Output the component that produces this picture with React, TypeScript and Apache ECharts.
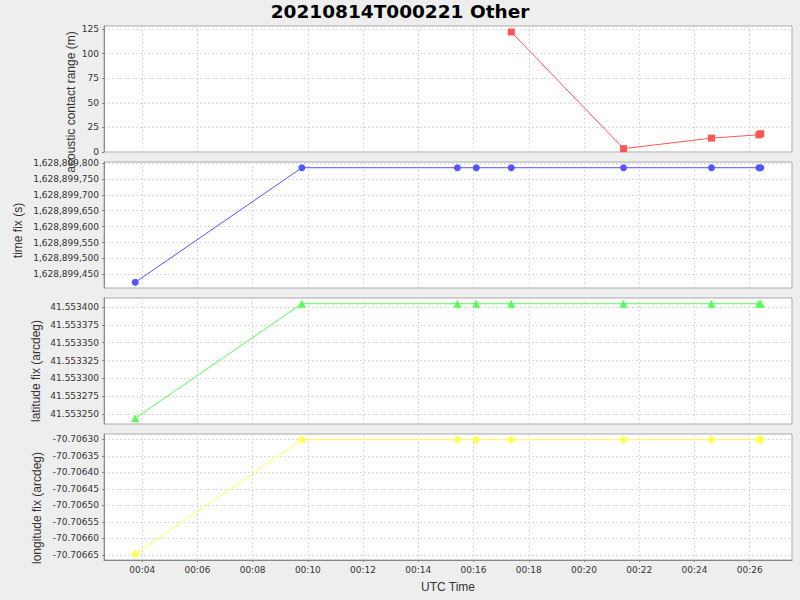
import React, { useEffect, useRef } from 'react';
import * as echarts from 'echarts';

const titleText = '20210814T000221 Other';

// shared x values (UTC time of each record)
const fixTimes = ['00:03:45', '00:09:47', '00:15:25', '00:16:06', '00:17:22', '00:21:26', '00:24:37', '00:26:20', '00:26:24'];
const timeFixValues = [1628899425, 1628899785, 1628899785, 1628899785, 1628899785, 1628899785, 1628899785, 1628899785, 1628899785];
const latitudeValues = [41.5532439, 41.5534048, 41.5534048, 41.5534048, 41.5534048, 41.5534048, 41.5534048, 41.5534048, 41.5534048];
const longitudeValues = [-70.706648, -70.706301, -70.706301, -70.706301, -70.706301, -70.706301, -70.706301, -70.706301, -70.706301];

const rangeTimes = ['00:17:22', '00:21:26', '00:24:37', '00:26:20', '00:26:24'];
const rangeValues = [122, 3.4, 14.1, 17.5, 18.6];

const xTickLabels = ['00:04', '00:06', '00:08', '00:10', '00:12', '00:14', '00:16', '00:18', '00:20', '00:22', '00:24', '00:26'];
const rangeTicks = [0, 25, 50, 75, 100, 125];
const timeFixTicks = [1628899450, 1628899500, 1628899550, 1628899600, 1628899650, 1628899700, 1628899750, 1628899800];
const latitudeTicks = [41.55325, 41.553275, 41.5533, 41.553325, 41.55335, 41.553375, 41.5534];
const longitudeTicks = [-70.70665, -70.7066, -70.70655, -70.7065, -70.70645, -70.7064, -70.70635, -70.7063];

const yAxisNames = ['acoustic contact range (m)', 'time fix (s)', 'latitude fix (arcdeg)', 'longitude fix (arcdeg)'];
const xAxisName = 'UTC Time';

const colors = ['#ff5555', '#5555ff', '#55ff55', '#ffff55'];
const symbols = ['rect', 'circle', 'triangle', 'diamond'];
const symbolSizes = [7, 7, 8, 9];

const toSec = (s: string) => {
  const p = s.split(':').map(Number);
  return p[0] * 3600 + p[1] * 60 + (p[2] || 0);
};

const padExtent = (vals: number[], includeZero = false): [number, number] => {
  let mn = Math.min(...vals);
  let mx = Math.max(...vals);
  if (includeZero) {
    mn = Math.min(0, mn);
    return [mn, mx + (mx - mn) * 0.05];
  }
  const r = mx - mn;
  return [mn - r * 0.05, mx + r * 0.05];
};

const fmtClock = (v: number) => {
  const m = Math.round(v / 60);
  const hh = Math.floor(m / 60);
  const mm = m % 60;
  return String(hh).padStart(2, '0') + ':' + String(mm).padStart(2, '0');
};
const fmtThousands = (v: number) => String(Math.round(v)).replace(/\B(?=(\d{3})+(?!\d))/g, ',');

export default function App() {
  const ref = useRef<HTMLDivElement>(null);

  useEffect(() => {
    if (!ref.current) return;
    const chart = echarts.init(ref.current, null, { renderer: 'svg' });

    const gridTops = [26, 162, 298, 434];
    const gridH = 126;
    const xs = fixTimes.map(toSec);
    const xExt = padExtent(xs);
    const xTickVals = xTickLabels.map(toSec);

    const yExt = [
      padExtent(rangeValues, true),
      padExtent(timeFixValues),
      padExtent(latitudeValues),
      padExtent(longitudeValues),
    ];
    const yTicks = [rangeTicks, timeFixTicks, latitudeTicks, longitudeTicks];
    const yFmt = [
      (v: number) => String(Math.round(v)),
      fmtThousands,
      (v: number) => v.toFixed(6),
      (v: number) => v.toFixed(5),
    ];
    const seriesData = [
      rangeTimes.map((t, i) => [toSec(t), rangeValues[i]]),
      fixTimes.map((t, i) => [toSec(t), timeFixValues[i]]),
      fixTimes.map((t, i) => [toSec(t), latitudeValues[i]]),
      fixTimes.map((t, i) => [toSec(t), longitudeValues[i]]),
    ];

    const splitLine = { show: true, lineStyle: { color: '#d9d9d9', width: 1, type: [2, 2] as any } };
    const tickFont = { fontFamily: 'DejaVu Sans', fontSize: 9, color: '#333' };

    const grids = gridTops.map((top) => ({
      left: 104,
      right: 8,
      top,
      height: gridH,
      show: true,
      backgroundColor: '#ffffff',
      borderColor: '#aaaaaa',
      borderWidth: 1,
      containLabel: false,
    }));

    const xAxes = gridTops.map((_, i) => ({
      type: 'value',
      gridIndex: i,
      min: xExt[0],
      max: xExt[1],
      axisLine: { show: i === 3, onZero: false, lineStyle: { color: '#888888' } },
      axisTick: { show: i === 3, length: 2, customValues: xTickVals, lineStyle: { color: '#888888' } },
      axisLabel: { show: i === 3, customValues: xTickVals, formatter: fmtClock, margin: 5, ...tickFont },
      splitLine,
      name: i === 3 ? xAxisName : '',
      nameLocation: 'middle',
      nameGap: 21,
      nameTextStyle: { fontFamily: 'Liberation Sans', fontSize: 12, color: '#333' },
    }));

    const yAxes = gridTops.map((_, i) => ({
      type: 'value',
      gridIndex: i,
      min: yExt[i][0],
      max: yExt[i][1],
      axisLine: { show: true, onZero: false, lineStyle: { color: '#888888' } },
      axisTick: { show: true, length: 2, customValues: yTicks[i], lineStyle: { color: '#888888' } },
      axisLabel: { show: true, customValues: yTicks[i], formatter: yFmt[i], margin: 5, ...tickFont },
      splitLine,
    }));

    const series = seriesData.map((d, i) => ({
      type: 'line',
      xAxisIndex: i,
      yAxisIndex: i,
      data: d,
      symbol: symbols[i],
      symbolSize: symbolSizes[i],
      showSymbol: true,
      lineStyle: { color: colors[i], width: 1 },
      itemStyle: { color: colors[i] },
      emphasis: { disabled: true },
    }));

    const nameX = [70.8, 17.5, 36, 37.3];
    const nameY = [102, 230.5, 371, 508];
    const graphic = yAxisNames.map((n, i) => ({
      type: 'text',
      x: nameX[i],
      y: nameY[i],
      rotation: Math.PI / 2,
      style: {
        text: n,
        fontFamily: 'Liberation Sans',
        fontSize: 12,
        fill: '#333',
        textAlign: 'center',
        textVerticalAlign: 'middle',
      },
    }));

    chart.setOption({
      animation: false,
      backgroundColor: '#eeeeee',
      title: {
        text: titleText,
        left: 'center',
        top: 2,
        padding: 0,
        textStyle: { fontFamily: 'DejaVu Sans', fontWeight: 'bold', fontSize: 18.5, color: '#000' },
      },
      grid: grids,
      xAxis: xAxes,
      yAxis: yAxes,
      series,
      graphic,
    } as any);

    return () => chart.dispose();
  }, []);

  return <div ref={ref} style={{ position: 'absolute', left: 0, top: 0, width: 800, height: 600 }} />;
}
